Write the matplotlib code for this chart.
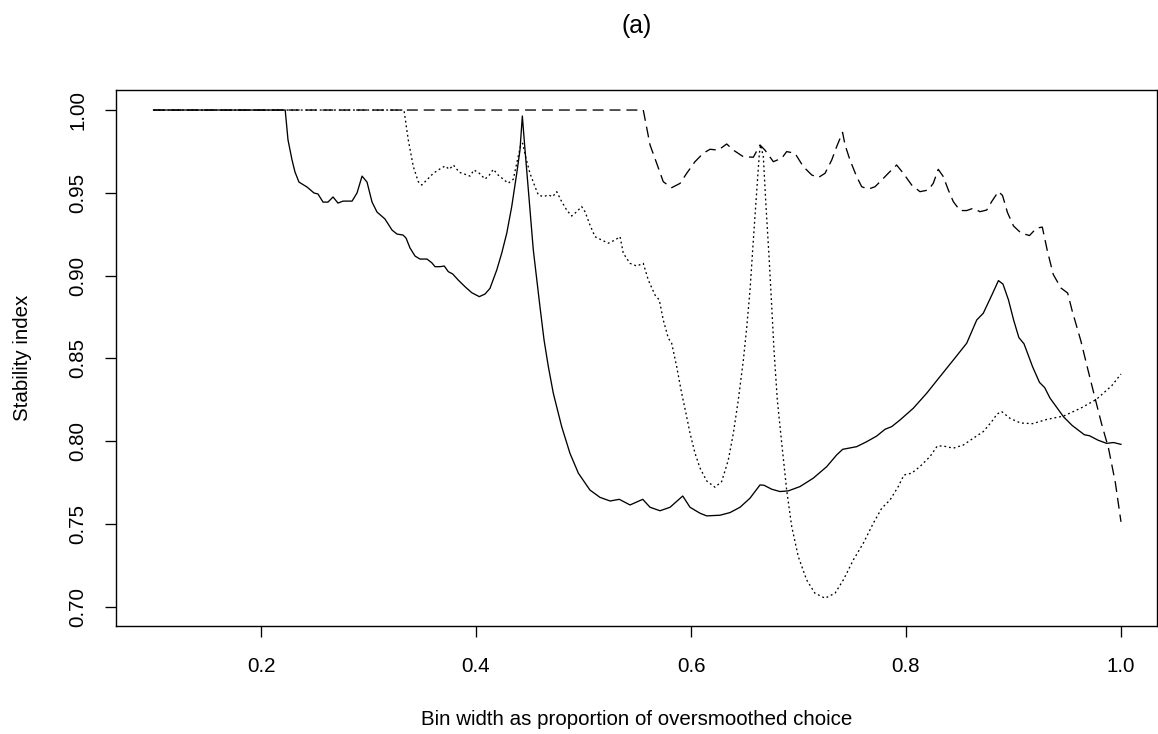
import numpy as np
import matplotlib
matplotlib.use("Agg")
import matplotlib.pyplot as plt

plt.rcParams["font.family"] = ["Liberation Sans", "DejaVu Sans"]

# stability index against bin width (proportion of the oversmoothed choice)
solid_pts = [
    (0.100, 1.000), (0.2225, 1.000), (0.2251, 0.982), (0.2288, 0.970), (0.2316, 0.9626),
    (0.2353, 0.9565), (0.2428, 0.9535), (0.2493, 0.9499), (0.2530, 0.9493), (0.2577, 0.9444),
    (0.2623, 0.9444), (0.2670, 0.9475), (0.2716, 0.9438), (0.2763, 0.9450), (0.2847, 0.9450),
    (0.2893, 0.9499), (0.2940, 0.9601), (0.2986, 0.9565), (0.3033, 0.9444), (0.3079, 0.9384),
    (0.3153, 0.9342), (0.3219, 0.9275), (0.3265, 0.9251), (0.3321, 0.9245), (0.3349, 0.9227),
    (0.3386, 0.9167), (0.3433, 0.9118), (0.3479, 0.9100), (0.3544, 0.9100), (0.3588, 0.9078),
    (0.3619, 0.9054), (0.3665, 0.9054), (0.3705, 0.9058), (0.3742, 0.9024), (0.3783, 0.9010),
    (0.3835, 0.8973), (0.3898, 0.8933), (0.3960, 0.8897), (0.4031, 0.8873), (0.4084, 0.8889),
    (0.4130, 0.8923), (0.4193, 0.9034), (0.4239, 0.9135), (0.4286, 0.9256), (0.4332, 0.9416),
    (0.4379, 0.9618), (0.4409, 0.9758), (0.4431, 0.9964), (0.4456, 0.9758), (0.4487, 0.9517),
    (0.4533, 0.9155), (0.4595, 0.8812), (0.4633, 0.8611), (0.4673, 0.8450), (0.4719, 0.8290),
    (0.4797, 0.8088), (0.4874, 0.7927), (0.4952, 0.7807), (0.5060, 0.7705), (0.5153, 0.7661),
    (0.5247, 0.7639), (0.5333, 0.7649), (0.5433, 0.7615), (0.5551, 0.7649), (0.5619, 0.7601),
    (0.5712, 0.7580), (0.5805, 0.7601), (0.5923, 0.7669), (0.5991, 0.7601), (0.6084, 0.7565),
    (0.6146, 0.7549), (0.6270, 0.7553), (0.6363, 0.7569), (0.6456, 0.7601), (0.6549, 0.7656),
    (0.6642, 0.7736), (0.6679, 0.7734), (0.6751, 0.7710), (0.6828, 0.7696), (0.6905, 0.7700),
    (0.7014, 0.7726), (0.7138, 0.7777), (0.7262, 0.7846), (0.7355, 0.7917), (0.7411, 0.7951),
    (0.7541, 0.7967), (0.7634, 0.7997), (0.7727, 0.8031), (0.7805, 0.8072), (0.7867, 0.8088),
    (0.7944, 0.8128), (0.8068, 0.8199), (0.8193, 0.8290), (0.8316, 0.8390), (0.8440, 0.8490),
    (0.8565, 0.8592), (0.8658, 0.8732), (0.8719, 0.8773), (0.8806, 0.8893), (0.8860, 0.8970),
    (0.8902, 0.8949), (0.8953, 0.8854), (0.9002, 0.8730), (0.9050, 0.8626), (0.9098, 0.8588),
    (0.9178, 0.8449), (0.9242, 0.8355), (0.9290, 0.8324), (0.9339, 0.8261), (0.9466, 0.8147),
    (0.9546, 0.8095), (0.9659, 0.8039), (0.9707, 0.8033), (0.9787, 0.8006), (0.9867, 0.7987),
    (0.9931, 0.7992), (1.0000, 0.7981),
]

dotted_pts = [
    (0.100, 1.000), (0.3330, 1.000), (0.3370, 0.9819), (0.3417, 0.9658), (0.3463, 0.9567),
    (0.3495, 0.9547), (0.3541, 0.9577), (0.3603, 0.9618), (0.3659, 0.9642), (0.3712, 0.9662),
    (0.3752, 0.9642), (0.3789, 0.9668), (0.3845, 0.9624), (0.3898, 0.9612), (0.3944, 0.9601),
    (0.3981, 0.9638), (0.4031, 0.9618), (0.4084, 0.9583), (0.4124, 0.9607), (0.4161, 0.9642),
    (0.4207, 0.9607), (0.4254, 0.9582), (0.4300, 0.9558), (0.4347, 0.9582), (0.4379, 0.9679),
    (0.4416, 0.9789), (0.4434, 0.9799), (0.4465, 0.9708), (0.4502, 0.9618), (0.4549, 0.9537),
    (0.4580, 0.9487), (0.4626, 0.9477), (0.4673, 0.9487), (0.4713, 0.9477), (0.4751, 0.9507),
    (0.4797, 0.9447), (0.4844, 0.9396), (0.4890, 0.9360), (0.4937, 0.9386), (0.4983, 0.9417),
    (0.5014, 0.9386), (0.5060, 0.9306), (0.5107, 0.9235), (0.5169, 0.9215), (0.5231, 0.9196),
    (0.5293, 0.9215), (0.5340, 0.9235), (0.5370, 0.9135), (0.5433, 0.9074), (0.5495, 0.9058),
    (0.5556, 0.9074), (0.5603, 0.8973), (0.5665, 0.8883), (0.5705, 0.8853), (0.5742, 0.8732),
    (0.5789, 0.8622), (0.5820, 0.8592), (0.5867, 0.8450), (0.5913, 0.8290), (0.5953, 0.8169),
    (0.5991, 0.8048), (0.6037, 0.7928), (0.6084, 0.7838), (0.6146, 0.7760), (0.6223, 0.7722),
    (0.6285, 0.7756), (0.6347, 0.7886), (0.6394, 0.8048), (0.6440, 0.8249), (0.6487, 0.8490),
    (0.6518, 0.8684), (0.6549, 0.8913), (0.6580, 0.9215), (0.6612, 0.9517), (0.6636, 0.9739),
    (0.6648, 0.9789), (0.6673, 0.9718), (0.6698, 0.9416), (0.6726, 0.9114), (0.6751, 0.8812),
    (0.6772, 0.8551), (0.6803, 0.8249), (0.6844, 0.7988), (0.6890, 0.7705), (0.6937, 0.7484),
    (0.6998, 0.7303), (0.7076, 0.7162), (0.7153, 0.7082), (0.7247, 0.7052), (0.7340, 0.7082),
    (0.7417, 0.7162), (0.7510, 0.7283), (0.7603, 0.7384), (0.7696, 0.7505), (0.7774, 0.7595),
    (0.7851, 0.7645), (0.7928, 0.7726), (0.7981, 0.7796), (0.8053, 0.7807), (0.8130, 0.7847),
    (0.8223, 0.7907), (0.8291, 0.7971), (0.8347, 0.7971), (0.8440, 0.7958), (0.8533, 0.7977),
    (0.8626, 0.8018), (0.8719, 0.8058), (0.8797, 0.8118), (0.8847, 0.8164), (0.8890, 0.8179),
    (0.8970, 0.8137), (0.9066, 0.8110), (0.9178, 0.8106), (0.9306, 0.8131), (0.9466, 0.8152),
    (0.9627, 0.8200), (0.9770, 0.8252), (0.9914, 0.8335), (1.0000, 0.8406),
]

dashed_pts = [
    (0.100, 1.000), (0.5556, 1.000), (0.5619, 0.9789), (0.5681, 0.9678), (0.5742, 0.9567),
    (0.5820, 0.9531), (0.5898, 0.9557), (0.5960, 0.9618), (0.6037, 0.9688), (0.6114, 0.9739),
    (0.6177, 0.9763), (0.6254, 0.9758), (0.6332, 0.9795), (0.6394, 0.9758), (0.6487, 0.9718),
    (0.6580, 0.9715), (0.6642, 0.9789), (0.6688, 0.9758), (0.6766, 0.9688), (0.6844, 0.9709),
    (0.6890, 0.9749), (0.6967, 0.9739), (0.7045, 0.9658), (0.7123, 0.9608), (0.7184, 0.9592),
    (0.7247, 0.9618), (0.7309, 0.9698), (0.7355, 0.9779), (0.7410, 0.9865), (0.7433, 0.9789),
    (0.7479, 0.9698), (0.7541, 0.9598), (0.7588, 0.9537), (0.7649, 0.9522), (0.7712, 0.9537),
    (0.7774, 0.9577), (0.7835, 0.9618), (0.7913, 0.9668), (0.7975, 0.9618), (0.8053, 0.9547),
    (0.8130, 0.9507), (0.8208, 0.9517), (0.8254, 0.9558), (0.8300, 0.9642), (0.8347, 0.9598),
    (0.8394, 0.9517), (0.8440, 0.9447), (0.8502, 0.9393), (0.8565, 0.9393), (0.8626, 0.9407),
    (0.8688, 0.9386), (0.8751, 0.9396), (0.8797, 0.9447), (0.8860, 0.9508), (0.8898, 0.9484),
    (0.8944, 0.9381), (0.9000, 0.9300), (0.9070, 0.9257), (0.9149, 0.9242), (0.9214, 0.9287),
    (0.9268, 0.9293), (0.9315, 0.9150), (0.9370, 0.9007), (0.9442, 0.8925), (0.9504, 0.8895),
    (0.9544, 0.8792), (0.9627, 0.8605), (0.9690, 0.8438), (0.9754, 0.8272), (0.9819, 0.8106),
    (0.9883, 0.7960), (0.9947, 0.7752), (1.0000, 0.7513),
]

x_ticks = [0.2, 0.4, 0.6, 0.8, 1.0]
y_ticks = [0.70, 0.75, 0.80, 0.85, 0.90, 0.95, 1.00]

W, H = 1158, 734
fig = plt.figure(figsize=(W / 100, H / 100), dpi=100)
ax = fig.add_axes([116 / W, 108 / H, 1041 / W, 536 / H])

lw = 0.95
sx, sy = zip(*solid_pts)
dx, dy = zip(*dotted_pts)
ex, ey = zip(*dashed_pts)
ax.plot(sx, sy, color="black", lw=lw)
ax.plot(dx, dy, color="black", lw=lw, dashes=(1.4, 2.2))
ax.plot(ex, ey, color="black", lw=lw, dashes=(8.3, 4.5))

ax.set_xlim(0.0651, 1.0335)
ax.set_ylim(0.6884, 1.0121)
ax.set_xticks(x_ticks)
ax.set_xticklabels([f"{v:.1f}" for v in x_ticks])
ax.set_yticks(y_ticks)
ax.set_yticklabels([f"{v:.2f}" for v in y_ticks])

for sp in ax.spines.values():
    sp.set_linewidth(1.0)
    sp.set_color("black")

ax.tick_params(direction="out", length=8, width=0.95, labelsize=14.8, colors="black")
ax.tick_params(axis="x", pad=14.5)
ax.tick_params(axis="y", pad=12.5, labelrotation=90)
for lbl in ax.get_yticklabels():
    lbl.set_va("center")

ax.set_title("(a)", fontsize=17.8, pad=41)
fig.text(636.5 / W, 1 - 725 / H, "Bin width as proportion of oversmoothed choice",
         ha="center", va="baseline", fontsize=14.8)
fig.text(22.5 / W, 1 - 358 / H, "Stability index", rotation=90,
         ha="center", va="center", fontsize=14.8)

fig.savefig("out.png", dpi=100)
